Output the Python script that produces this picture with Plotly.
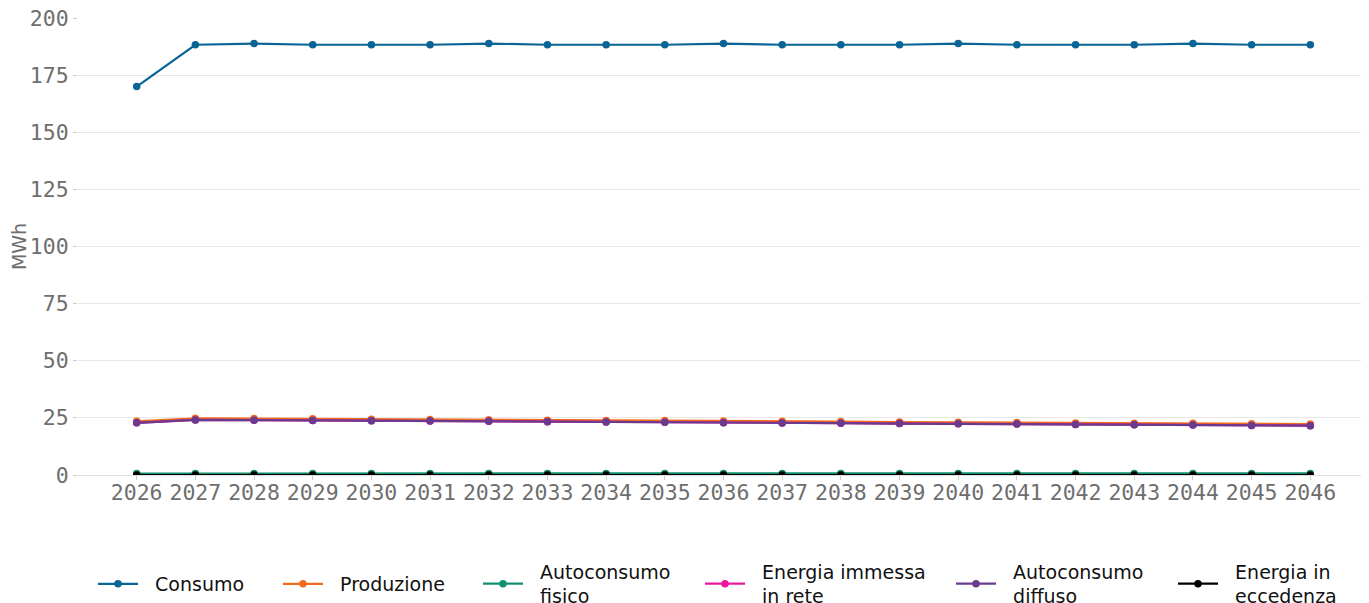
import plotly.graph_objects as go

anni = list(range(2026, 2047))

consumo = [170.0, 188.3, 188.8, 188.3, 188.3, 188.3, 188.8, 188.3, 188.3, 188.3, 188.8,
           188.3, 188.3, 188.3, 188.8, 188.3, 188.3, 188.3, 188.8, 188.3, 188.3]
produzione = [23.5, 24.8, 24.7, 24.6, 24.4, 24.3, 24.2, 24.0, 23.9, 23.8, 23.6,
              23.5, 23.4, 23.2, 23.1, 23.0, 22.8, 22.7, 22.6, 22.4, 22.3]
autoconsumo_fisico = [0.65, 0.7, 0.7, 0.7, 0.7, 0.7, 0.7, 0.7, 0.7, 0.7, 0.7,
                      0.7, 0.7, 0.7, 0.7, 0.7, 0.7, 0.7, 0.7, 0.7, 0.7]
energia_immessa = [22.85, 24.1, 24.0, 23.9, 23.7, 23.6, 23.5, 23.3, 23.2, 23.1, 22.9,
                   22.8, 22.7, 22.5, 22.4, 22.3, 22.1, 22.0, 21.9, 21.7, 21.6]
autoconsumo_diffuso = [22.85, 24.1, 24.0, 23.9, 23.7, 23.6, 23.5, 23.3, 23.2, 23.1, 22.9,
                       22.8, 22.7, 22.5, 22.4, 22.3, 22.1, 22.0, 21.9, 21.7, 21.6]
energia_eccedenza = [0.0] * 21

serie = [
    (["Consumo"], consumo, "#0a6496"),
    (["Produzione"], produzione, "#f26b1d"),
    (["Autoconsumo", "fisico"], autoconsumo_fisico, "#109070"),
    (["Energia immessa", "in rete"], energia_immessa, "#e8199c"),
    (["Autoconsumo", "diffuso"], autoconsumo_diffuso, "#6a3a8f"),
    (["Energia in", "eccedenza"], energia_eccedenza, "#000000"),
]

# legend entry left edges (px, figure coordinates)
legend_px = [85, 270, 470, 692, 943, 1165]

W, H = 1361, 595
L, R, T, B = 70, 0, 10, 128
pw = W - L - R
ph = H - T - B

pad = "\u00a0\u00a0"

fig = go.Figure()
layout_legends = {}
for i, (righe, vals, col) in enumerate(serie):
    key = "legend" if i == 0 else f"legend{i+1}"
    nome = "<br>".join(pad + r for r in righe)
    fig.add_trace(go.Scatter(
        x=anni, y=vals, name=nome, mode="lines+markers",
        line=dict(color=col, width=2.2), marker=dict(color=col, size=7.5),
        legend=key,
    ))
    layout_legends[key] = dict(
        orientation="h", x=(legend_px[i] - L) / pw, xanchor="left",
        y=(T + ph - 576) / ph, yanchor="middle", itemwidth=40,
        bgcolor="rgba(0,0,0,0)",
        font=dict(family="DejaVu Sans", size=19, color="#111111"),
    )

tickfont = dict(family="DejaVu Sans Mono", size=21.5, color="#6e6e6e")
fig.update_layout(
    width=W, height=H,
    margin=dict(l=L, r=R, t=T, b=B, autoexpand=False),
    paper_bgcolor="white", plot_bgcolor="white",
    showlegend=True,
    xaxis=dict(range=[2025, 2047], tickmode="array", tickvals=anni,
               ticktext=[str(a) for a in anni], tickfont=tickfont,
               showgrid=False, zeroline=False, showline=False, automargin=False,
               ticks="outside", ticklen=4, tickcolor="#cccccc", ticklabelstandoff=-6,
               ticklabeloverflow="allow"),
    yaxis=dict(range=[0, 200], tickvals=[0, 25, 50, 75, 100, 125, 150, 175, 200],
               tickfont=tickfont, showgrid=True, gridcolor="#e8e8e8", automargin=False,
               zeroline=True, zerolinecolor="#e0e0e0", zerolinewidth=1,
               showline=False, ticks="outside", ticklen=4, tickcolor="#cccccc",
               ticklabeloverflow="allow",
               title=dict(text="MWh", font=dict(family="DejaVu Sans", size=19, color="#6e6e6e"))),
    **layout_legends,
)
fig.write_html("out.html")
